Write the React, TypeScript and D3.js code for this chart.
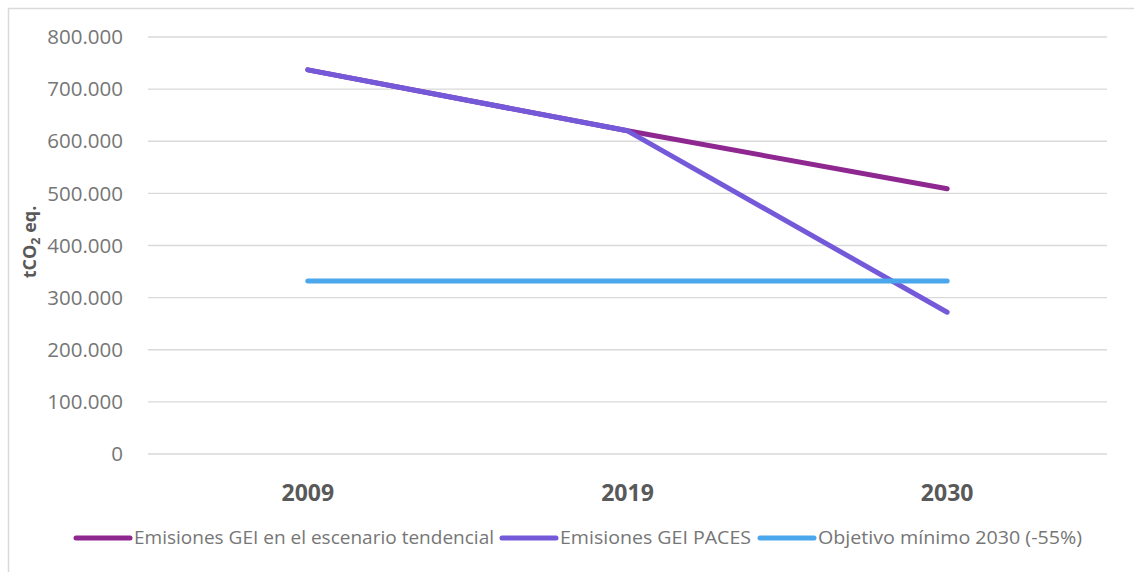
import React from "react";
import * as d3 from "d3";

const categories = ["2009", "2019", "2030"];
const tendencial = [737000, 620000, 509000];
const paces = [737000, 620000, 272000];
const objetivo = [332000, 332000, 332000];
const yTicks = [0, 100000, 200000, 300000, 400000, 500000, 600000, 700000, 800000];
const seriesNames = [
  "Emisiones GEI en el escenario tendencial",
  "Emisiones GEI PACES",
  "Objetivo mínimo 2030 (-55%)",
];
const seriesColors = ["#8E2790", "#7459D9", "#4BA7EC"];

const W = 1134;
const H = 572;
const plot = { left: 148, right: 1107, top: 37, bottom: 454 };

export default function App() {
  const x = d3.scaleBand().domain(categories).range([plot.left, plot.right]).padding(0);
  const y = d3.scaleLinear().domain([0, 800000]).range([plot.bottom, plot.top]);
  const fmt = (v: number) => (v === 0 ? "0" : d3.format(",")(v).replace(/,/g, "."));
  const line = d3
    .line<number>()
    .x((_, i) => (x(categories[i]) as number) + x.bandwidth() / 2)
    .y((d) => y(d));
  const series = [tendencial, paces, objetivo];
  const legendX = [76, 502, 760];
  const legendW = [360, 191, 264];
  const font = "'Open Sans', 'Noto Sans', sans-serif";
  return (
    <svg
      width={W}
      height={H}
      style={{ position: "absolute", left: 0, top: 0, background: "#fff" }}
    >
      <rect x={8.5} y={8.5} width={1200} height={600} fill="#fff" stroke="#d9d9d9" strokeWidth={1.5} />
      {yTicks.map((t) => (
        <g key={t}>
          <line x1={plot.left} x2={plot.right} y1={y(t)} y2={y(t)} stroke="#d9d9d9" strokeWidth={1.3} />
          <text
            x={123}
            y={y(t)}
            dy="0.35em"
            textAnchor="end"
            fontFamily={font}
            fontSize={20.5}
            fontWeight={400}
            fill="#767676"
          >
            {fmt(t)}
          </text>
        </g>
      ))}
      <text
        transform={`translate(36,242) rotate(-90)`}
        textAnchor="middle"
        fontFamily={font}
        fontSize={18}
        fontWeight={700}
        fill="#595959"
      >
        tCO<tspan fontSize={12.5} dy={4}>2</tspan>
        <tspan dy={-4}> eq.</tspan>
      </text>
      {categories.map((c) => (
        <text
          key={c}
          x={(x(c) as number) + x.bandwidth() / 2}
          y={501}
          textAnchor="middle"
          fontFamily={font}
          fontSize={23}
          fontWeight={700}
          fill="#595959"
        >
          {c}
        </text>
      ))}
      {series.map((s, i) => (
        <path
          key={i}
          d={line(s) as string}
          fill="none"
          stroke={seriesColors[i]}
          strokeWidth={5}
          strokeLinecap="round"
          strokeLinejoin="round"
        />
      ))}
      {seriesNames.map((n, i) => (
        <g key={n}>
          <line
            x1={legendX[i]}
            x2={legendX[i] + 54}
            y1={538}
            y2={538}
            stroke={seriesColors[i]}
            strokeWidth={5}
            strokeLinecap="round"
          />
          <text
            x={legendX[i] + 58}
            y={538}
            dy="0.35em"
            fontFamily={font}
            fontSize={18.5}
            fontWeight={400}
            fill="#767676"
            textLength={legendW[i]}
            lengthAdjust="spacingAndGlyphs"
          >
            {n}
          </text>
        </g>
      ))}
    </svg>
  );
}
